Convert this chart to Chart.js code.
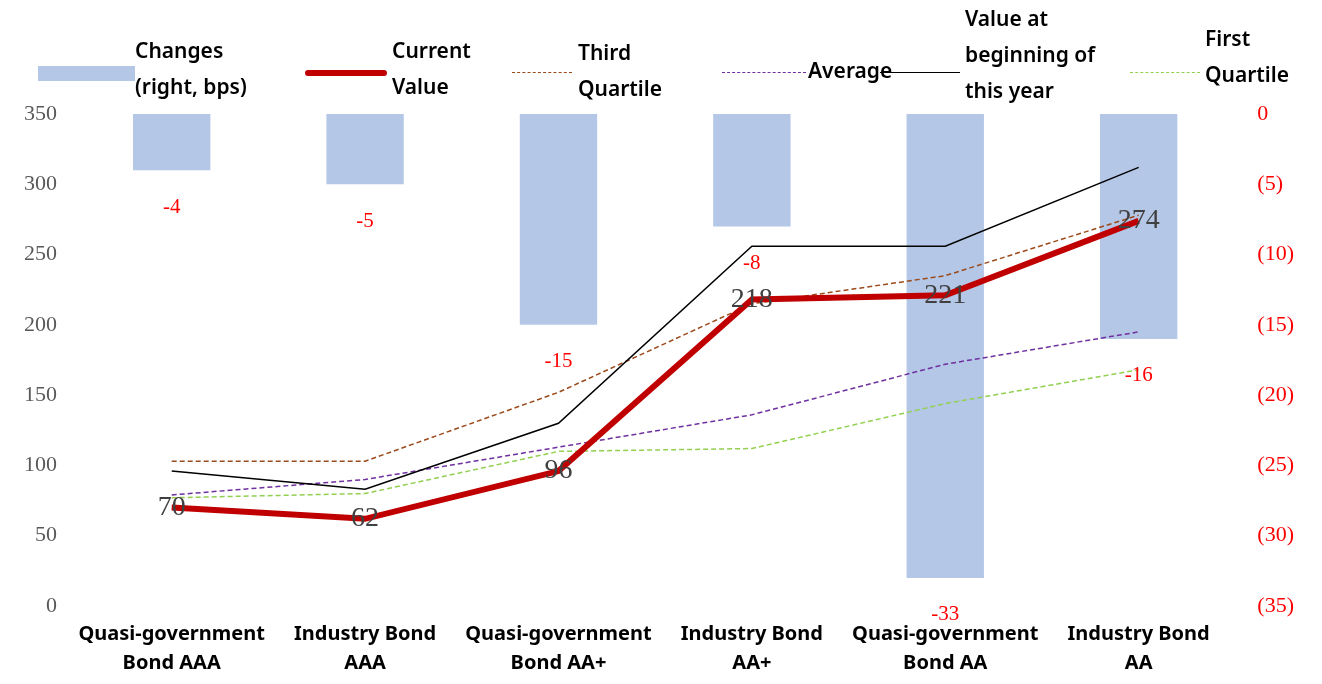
<!DOCTYPE html>
<html>
<head>
<meta charset="utf-8">
<script src="https://cdn.jsdelivr.net/npm/chart.js@4"></script>
<style>
  body { margin: 0; background: #fff; }
  #wrap { position: relative; width: 1322px; height: 684px; }
  .lg { position: absolute; font-family: "Noto Sans", sans-serif; font-size: 21px; line-height: 36px; color: #000; font-weight: 600; }
  .sw { position: absolute; }
</style>
</head>
<body>
<div id="wrap">
  <canvas id="c" width="1322" height="684"></canvas>
  <div class="sw" style="left:38px;top:66px;width:97px;height:15px;background:#b4c7e7"></div>
  <div class="lg" style="left:135px;top:32px">Changes<br>(right, bps)</div>
  <div class="sw" style="left:305px;top:70px;width:82px;height:0;border-top:6px solid #c00000;border-radius:3px"></div>
  <div class="lg" style="left:392px;top:32px">Current<br>Value</div>
  <div class="sw" style="left:512px;top:72px;width:60px;height:0;border-top:1.5px dashed #9c4a1a"></div>
  <div class="lg" style="left:578px;top:34px">Third<br>Quartile</div>
  <div class="sw" style="left:722px;top:72px;width:84px;height:0;border-top:1.5px dashed #7030a0"></div>
  <div class="lg" style="left:808px;top:52px">Average</div>
  <div class="sw" style="left:880px;top:72px;width:80px;height:0;border-top:1.5px solid #000"></div>
  <div class="lg" style="left:965px;top:0px">Value at<br>beginning of<br>this year</div>
  <div class="sw" style="left:1130px;top:72px;width:70px;height:0;border-top:1.5px dashed #92d050"></div>
  <div class="lg" style="left:1205px;top:20px">First<br>Quartile</div>
</div>
<script>
const categories = [['Quasi-government', 'Bond AAA'], ['Industry Bond', 'AAA'], ['Quasi-government', 'Bond AA+'], ['Industry Bond', 'AA+'], ['Quasi-government', 'Bond AA'], ['Industry Bond', 'AA']];
const changes = [-4, -5, -15, -8, -33, -16];
const currentValue = [70, 62, 96, 218, 221, 274];
const thirdQuartile = [103, 103, 152, 215, 235, 278];
const average = [79, 90, 113, 136, 172, 195];
const beginValue = [96, 83, 130, 256, 256, 312];
const firstQuartile = [77, 80, 110, 112, 144, 168];

const labelPlugin = {
  id: 'labels',
  afterDatasetsDraw(chart) {
    const ctx = chart.ctx;
    ctx.save();
    ctx.textAlign = 'center';
    ctx.textBaseline = 'middle';
    const bars = chart.getDatasetMeta(5);
    ctx.fillStyle = '#ff0000';
    ctx.font = '21px "Liberation Serif", serif';
    bars.data.forEach((el, i) => ctx.fillText(changes[i], el.x, el.y + 37));
    const cur = chart.getDatasetMeta(0);
    ctx.fillStyle = '#404040';
    ctx.font = '28px "Liberation Serif", serif';
    cur.data.forEach((el, i) => ctx.fillText(currentValue[i], el.x, el.y));
    ctx.restore();
  }
};

const line = (data, color, width, dash) => ({
  type: 'line', data, borderColor: color, borderWidth: width, borderDash: dash,
  pointRadius: 0, fill: false, tension: 0, yAxisID: 'y'
});

new Chart(document.getElementById('c'), {
  data: {
    labels: categories,
    datasets: [
      line(currentValue, '#c00000', 6, []),
      line(beginValue, '#000000', 1.5, []),
      line(thirdQuartile, '#9c4a1a', 1.5, [5, 3]),
      line(average, '#7030a0', 1.5, [5, 3]),
      line(firstQuartile, '#92d050', 1.5, [5, 3]),
      { type: 'bar', data: changes, backgroundColor: '#b4c7e7', yAxisID: 'y1', categoryPercentage: 1, barPercentage: 0.4 }
    ]
  },
  options: {
    responsive: false,
    animation: false,
    layout: { padding: { top: 114, left: 14, right: 14, bottom: 0 } },
    plugins: { legend: { display: false }, tooltip: { enabled: false } },
    scales: {
      x: {
        grid: { display: false }, border: { display: false },
        ticks: { color: '#000', font: { family: 'Noto Sans', size: 20, weight: 'bold', lineHeight: 1.45 }, maxRotation: 0, padding: 6 }
      },
      y: {
        position: 'left', min: 0, max: 350,
        grid: { display: false }, border: { display: false },
        ticks: { stepSize: 50, color: '#595959', font: { family: 'Liberation Serif', size: 22 }, padding: 10 }
      },
      y1: {
        position: 'right', min: -35, max: 0,
        grid: { display: false }, border: { display: false },
        ticks: { stepSize: 5, color: '#ff0000', font: { family: 'Liberation Serif', size: 22 }, padding: 14,
          callback: v => v === 0 ? '0' : '(' + (-v) + ')' }
      }
    }
  },
  plugins: [labelPlugin]
});
</script>
</body>
</html>
